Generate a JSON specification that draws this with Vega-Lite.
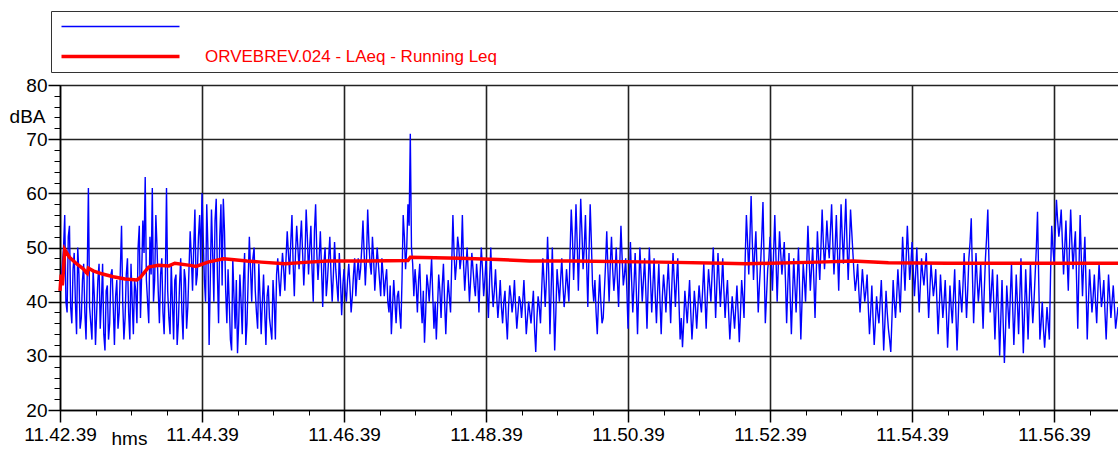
{
  "$schema": "https://vega.github.io/schema/vega-lite/v6.json",
  "autosize": "none",
  "width": 1058,
  "height": 325,
  "padding": {"left": 60, "top": 85, "right": 0, "bottom": 40},
  "background": "white",
  "config": {
    "view": {"stroke": null},
    "axis": {"labelFont": "Liberation Sans", "labelFontSize": 19, "labelColor": "black", "labelFlush": false, "titleFont": "Liberation Sans", "titleFontSize": 19, "titleFontWeight": "normal", "titleColor": "black", "domainColor": "black", "tickColor": "black", "gridColor": "#222", "gridOpacity": 1}
  },
  "datasets": {
    "blue": [
      {"t":0,"v":42},{"t":2,"v":47},{"t":4,"v":56},{"t":6,"v":38},{"t":8,"v":54},{"t":10,"v":36},{"t":12,"v":49},{"t":14,"v":34},{"t":16,"v":45},{"t":18,"v":37},
      {"t":20,"v":47},{"t":22,"v":33},{"t":24,"v":61},{"t":26,"v":36},{"t":28,"v":46},{"t":30,"v":32},{"t":32,"v":44},{"t":34,"v":35},{"t":36,"v":47},{"t":38,"v":31},
      {"t":40,"v":43},{"t":42,"v":36},{"t":44,"v":46},{"t":46,"v":32},{"t":48,"v":44},{"t":50,"v":38},{"t":52,"v":54},{"t":54,"v":33},{"t":56,"v":45},{"t":58,"v":38},
      {"t":60,"v":47},{"t":62,"v":34},{"t":64,"v":42},{"t":66,"v":50},{"t":68,"v":37},{"t":70,"v":55},{"t":72,"v":63},{"t":74,"v":40},{"t":76,"v":52},{"t":78,"v":61},
      {"t":80,"v":44},{"t":82,"v":50},{"t":84,"v":36},{"t":86,"v":48},{"t":88,"v":34},{"t":90,"v":61},{"t":92,"v":37},{"t":94,"v":47},{"t":96,"v":33},{"t":98,"v":45},
      {"t":100,"v":36},{"t":102,"v":48},{"t":104,"v":33},{"t":106,"v":44},{"t":108,"v":39},{"t":110,"v":53},{"t":112,"v":42},{"t":114,"v":57},{"t":116,"v":45},{"t":118,"v":56},
      {"t":120,"v":60},{"t":122,"v":44},{"t":124,"v":58},{"t":126,"v":32},{"t":128,"v":57},{"t":130,"v":40},{"t":132,"v":59},{"t":134,"v":36},{"t":136,"v":58},{"t":138,"v":59},
      {"t":140,"v":42},{"t":142,"v":46},{"t":144,"v":33},{"t":146,"v":48},{"t":148,"v":35},{"t":150,"v":30.5},{"t":152,"v":45},{"t":154,"v":34},{"t":156,"v":49},{"t":158,"v":36},
      {"t":160,"v":52},{"t":162,"v":40},{"t":164,"v":50},{"t":166,"v":38},{"t":168,"v":47},{"t":170,"v":34},{"t":172,"v":45},{"t":174,"v":32},{"t":176,"v":43},{"t":178,"v":35},
      {"t":180,"v":44},{"t":182,"v":33},{"t":184,"v":48},{"t":186,"v":41},{"t":188,"v":49},{"t":190,"v":42},{"t":192,"v":53},{"t":194,"v":45},{"t":196,"v":56},{"t":198,"v":41},
      {"t":200,"v":54},{"t":202,"v":46},{"t":204,"v":55},{"t":206,"v":43},{"t":208,"v":57},{"t":210,"v":45},{"t":212,"v":54},{"t":214,"v":40},{"t":216,"v":58},{"t":218,"v":44},
      {"t":220,"v":53},{"t":222,"v":39},{"t":224,"v":50},{"t":226,"v":44},{"t":228,"v":52},{"t":230,"v":40},{"t":232,"v":51},{"t":234,"v":43},{"t":236,"v":49},{"t":238,"v":37.5},
      {"t":240,"v":46},{"t":242,"v":40},{"t":244,"v":47},{"t":246,"v":38},{"t":248,"v":45},{"t":250,"v":41},{"t":252,"v":48},{"t":254,"v":46},{"t":256,"v":55},{"t":258,"v":43},
      {"t":260,"v":57},{"t":262,"v":47},{"t":264,"v":52},{"t":266,"v":42},{"t":268,"v":50},{"t":270,"v":44},{"t":272,"v":48},{"t":274,"v":41},{"t":276,"v":46},{"t":278,"v":38},
      {"t":280,"v":34},{"t":282,"v":44},{"t":284,"v":36},{"t":286,"v":42},{"t":288,"v":35},{"t":290,"v":56},{"t":292,"v":46},{"t":294,"v":58},{"t":296,"v":71},{"t":298,"v":47},
      {"t":300,"v":46},{"t":302,"v":38},{"t":304,"v":47},{"t":306,"v":36},{"t":308,"v":32.4},{"t":310,"v":45},{"t":312,"v":40},{"t":314,"v":48},{"t":316,"v":35},{"t":318,"v":33},
      {"t":320,"v":45},{"t":322,"v":37},{"t":324,"v":47},{"t":326,"v":34},{"t":328,"v":44},{"t":330,"v":38},{"t":332,"v":56},{"t":334,"v":44},{"t":336,"v":52},{"t":338,"v":46},
      {"t":340,"v":56},{"t":342,"v":42},{"t":344,"v":50},{"t":346,"v":40},{"t":348,"v":49},{"t":350,"v":43},{"t":352,"v":47},{"t":354,"v":38},{"t":356,"v":50},{"t":358,"v":41},
      {"t":360,"v":48},{"t":362,"v":37},{"t":364,"v":50},{"t":366,"v":39},{"t":368,"v":46},{"t":370,"v":37},{"t":372,"v":44},{"t":374,"v":36},{"t":376,"v":42},{"t":378,"v":33},
      {"t":380,"v":43},{"t":382,"v":38},{"t":384,"v":44},{"t":386,"v":35},{"t":388,"v":41},{"t":390,"v":37},{"t":392,"v":44},{"t":394,"v":34},{"t":396,"v":40},{"t":398,"v":36},
      {"t":400,"v":42},{"t":402,"v":30.7},{"t":404,"v":41},{"t":406,"v":36},{"t":408,"v":48},{"t":410,"v":39},{"t":412,"v":52},{"t":414,"v":34},{"t":416,"v":50},{"t":418,"v":31},
      {"t":420,"v":46},{"t":422,"v":40},{"t":424,"v":48},{"t":426,"v":39},{"t":428,"v":46},{"t":430,"v":40},{"t":432,"v":57},{"t":434,"v":44},{"t":436,"v":58},{"t":438,"v":42},
      {"t":440,"v":59},{"t":442,"v":46},{"t":444,"v":56},{"t":446,"v":39},{"t":448,"v":58},{"t":450,"v":43},{"t":452,"v":44},{"t":454,"v":34},{"t":456,"v":45},{"t":458,"v":36},
      {"t":460,"v":42},{"t":462,"v":53},{"t":464,"v":40},{"t":466,"v":52},{"t":468,"v":42},{"t":470,"v":50},{"t":472,"v":39},{"t":474,"v":54},{"t":476,"v":43},{"t":478,"v":48},
      {"t":480,"v":35},{"t":482,"v":51},{"t":484,"v":38},{"t":486,"v":49},{"t":488,"v":34},{"t":490,"v":50},{"t":492,"v":40},{"t":494,"v":48},{"t":496,"v":35},{"t":498,"v":50},
      {"t":500,"v":38},{"t":502,"v":48},{"t":504,"v":36},{"t":506,"v":47},{"t":508,"v":34},{"t":510,"v":45},{"t":512,"v":38},{"t":514,"v":47},{"t":516,"v":36},{"t":518,"v":49},
      {"t":520,"v":39},{"t":522,"v":48},{"t":524,"v":33},{"t":526,"v":31.6},{"t":528,"v":42},{"t":530,"v":36},{"t":532,"v":44},{"t":534,"v":33},{"t":536,"v":42},{"t":538,"v":35},
      {"t":540,"v":43},{"t":542,"v":38},{"t":544,"v":47},{"t":546,"v":35},{"t":548,"v":46},{"t":550,"v":40},{"t":552,"v":50},{"t":554,"v":37},{"t":556,"v":49},{"t":558,"v":39},
      {"t":560,"v":48},{"t":562,"v":37},{"t":564,"v":44},{"t":566,"v":33},{"t":568,"v":41},{"t":570,"v":35},{"t":572,"v":43},{"t":574,"v":32.5},{"t":576,"v":44},{"t":578,"v":37},
      {"t":580,"v":56},{"t":582,"v":45},{"t":584,"v":59.5},{"t":586,"v":44},{"t":588,"v":53},{"t":590,"v":38},{"t":592,"v":47},{"t":594,"v":58.4},{"t":596,"v":36},{"t":598,"v":46},
      {"t":600,"v":52},{"t":602,"v":42},{"t":604,"v":56},{"t":606,"v":40},{"t":608,"v":53},{"t":610,"v":45},{"t":612,"v":51},{"t":614,"v":36},{"t":616,"v":49},{"t":618,"v":34},
      {"t":620,"v":48},{"t":622,"v":38},{"t":624,"v":50},{"t":626,"v":33},{"t":628,"v":47},{"t":630,"v":40},{"t":632,"v":54},{"t":634,"v":42},{"t":636,"v":50},{"t":638,"v":37},
      {"t":640,"v":53},{"t":642,"v":44},{"t":644,"v":57},{"t":646,"v":46},{"t":648,"v":55},{"t":650,"v":48},{"t":652,"v":58},{"t":654,"v":45},{"t":656,"v":56},{"t":658,"v":42},
      {"t":660,"v":58},{"t":662,"v":47},{"t":664,"v":59},{"t":666,"v":44},{"t":668,"v":57},{"t":670,"v":49},{"t":672,"v":42},{"t":674,"v":47},{"t":676,"v":38},{"t":678,"v":46},
      {"t":680,"v":40},{"t":682,"v":45},{"t":684,"v":34},{"t":686,"v":43},{"t":688,"v":32},{"t":690,"v":41},{"t":692,"v":36},{"t":694,"v":44},{"t":696,"v":31},{"t":698,"v":42},
      {"t":700,"v":35},{"t":702,"v":30.7},{"t":704,"v":44},{"t":706,"v":37},{"t":708,"v":46},{"t":710,"v":38},{"t":712,"v":52},{"t":714,"v":42},{"t":716,"v":54},{"t":718,"v":44},
      {"t":720,"v":51},{"t":722,"v":41},{"t":724,"v":50},{"t":726,"v":38},{"t":728,"v":48},{"t":730,"v":43},{"t":732,"v":49},{"t":734,"v":37},{"t":736,"v":47},{"t":738,"v":41},
      {"t":740,"v":46},{"t":742,"v":34},{"t":744,"v":45},{"t":746,"v":37},{"t":748,"v":44},{"t":750,"v":31.5},{"t":752,"v":43},{"t":754,"v":36},{"t":756,"v":46},{"t":758,"v":31},
      {"t":760,"v":44},{"t":762,"v":38},{"t":764,"v":49},{"t":766,"v":37},{"t":768,"v":48},{"t":770,"v":55.4},{"t":772,"v":36},{"t":774,"v":49},{"t":776,"v":40},{"t":778,"v":47},
      {"t":780,"v":35},{"t":782,"v":48},{"t":784,"v":57},{"t":786,"v":38},{"t":788,"v":46},{"t":790,"v":33},{"t":792,"v":45},{"t":794,"v":30},{"t":796,"v":44},{"t":798,"v":28.7},
      {"t":800,"v":43},{"t":802,"v":35},{"t":804,"v":47},{"t":806,"v":32},{"t":808,"v":45},{"t":810,"v":34},{"t":812,"v":48},{"t":814,"v":30.5},{"t":816,"v":46},{"t":818,"v":33},
      {"t":820,"v":47},{"t":822,"v":36},{"t":824,"v":45},{"t":826,"v":56.6},{"t":828,"v":33},{"t":830,"v":40},{"t":832,"v":31.5},{"t":834,"v":39},{"t":836,"v":33},{"t":838,"v":54},
      {"t":840,"v":47},{"t":842,"v":58.8},{"t":844,"v":52},{"t":846,"v":57},{"t":848,"v":45},{"t":850,"v":55},{"t":852,"v":42},{"t":854,"v":57},{"t":856,"v":46},{"t":858,"v":53},
      {"t":860,"v":35},{"t":862,"v":56},{"t":864,"v":41},{"t":866,"v":52},{"t":868,"v":33},{"t":870,"v":46},{"t":872,"v":38},{"t":874,"v":45},{"t":876,"v":36},{"t":878,"v":47},
      {"t":880,"v":39},{"t":882,"v":44},{"t":884,"v":33},{"t":886,"v":45},{"t":888,"v":37},{"t":890,"v":43},{"t":892,"v":35},{"t":894,"v":39},
      {"t":1,"v":44},{"t":3,"v":50},{"t":5,"v":40},{"t":7,"v":52},{"t":9,"v":39},{"t":11,"v":46},{"t":13,"v":40},{"t":15,"v":50},{"t":17,"v":35},{"t":19,"v":44},
      {"t":21,"v":38},{"t":23,"v":45},{"t":25,"v":39},{"t":27,"v":33},{"t":29,"v":41},{"t":31,"v":38},{"t":33,"v":47},{"t":35,"v":40},{"t":37,"v":34},{"t":39,"v":42},
      {"t":41,"v":33},{"t":43,"v":45},{"t":45,"v":39},{"t":47,"v":41},{"t":49,"v":35},{"t":51,"v":46},{"t":53,"v":40},{"t":55,"v":37},{"t":57,"v":48},{"t":59,"v":33},
      {"t":61,"v":40},{"t":63,"v":44},{"t":65,"v":36},{"t":67,"v":54},{"t":69,"v":45},{"t":71,"v":49},{"t":73,"v":44},{"t":75,"v":36},{"t":77,"v":45},{"t":79,"v":40},
      {"t":81,"v":56},{"t":83,"v":42},{"t":85,"v":45},{"t":87,"v":38},{"t":89,"v":44},{"t":91,"v":42},{"t":93,"v":34},{"t":95,"v":40},{"t":97,"v":44},{"t":99,"v":32},
      {"t":101,"v":43},{"t":103,"v":38},{"t":105,"v":46},{"t":107,"v":35},{"t":109,"v":46},{"t":111,"v":48},{"t":113,"v":50},{"t":115,"v":43},{"t":117,"v":52},{"t":119,"v":47},
      {"t":121,"v":52},{"t":123,"v":40},{"t":125,"v":50},{"t":127,"v":44},{"t":129,"v":49},{"t":131,"v":55},{"t":133,"v":45},{"t":135,"v":52},{"t":137,"v":43},{"t":139,"v":53},
      {"t":141,"v":36},{"t":143,"v":40},{"t":145,"v":31},{"t":147,"v":41},{"t":149,"v":44},{"t":151,"v":36},{"t":153,"v":40},{"t":155,"v":44},{"t":157,"v":32},{"t":159,"v":44},
      {"t":161,"v":46},{"t":163,"v":48},{"t":165,"v":42},{"t":167,"v":35},{"t":169,"v":41},{"t":171,"v":40},{"t":173,"v":38},{"t":175,"v":41},{"t":177,"v":37},{"t":179,"v":33},
      {"t":181,"v":40},{"t":183,"v":45},{"t":185,"v":44},{"t":187,"v":45},{"t":189,"v":46},{"t":191,"v":48},{"t":193,"v":49},{"t":195,"v":51},{"t":197,"v":47},{"t":199,"v":49},
      {"t":201,"v":50},{"t":203,"v":51},{"t":205,"v":49},{"t":207,"v":48},{"t":209,"v":52},{"t":211,"v":50},{"t":213,"v":46},{"t":215,"v":53},{"t":217,"v":49},{"t":219,"v":48},
      {"t":221,"v":46},{"t":223,"v":47},{"t":225,"v":41},{"t":227,"v":48},{"t":229,"v":45},{"t":231,"v":45},{"t":233,"v":46},{"t":235,"v":40},{"t":237,"v":44},{"t":239,"v":43},
      {"t":241,"v":42},{"t":243,"v":44},{"t":245,"v":43},{"t":247,"v":41},{"t":249,"v":48},{"t":251,"v":45},{"t":253,"v":44},{"t":255,"v":50},{"t":257,"v":49},{"t":259,"v":48},
      {"t":261,"v":51},{"t":263,"v":45},{"t":265,"v":48},{"t":267,"v":46},{"t":269,"v":47},{"t":271,"v":41},{"t":273,"v":45},{"t":275,"v":44},{"t":277,"v":40},{"t":279,"v":43},
      {"t":281,"v":39},{"t":283,"v":40},{"t":285,"v":41},{"t":287,"v":38},{"t":289,"v":44},{"t":291,"v":52},{"t":293,"v":50},{"t":295,"v":54},{"t":297,"v":50},{"t":299,"v":41},
      {"t":301,"v":43},{"t":303,"v":44},{"t":305,"v":40},{"t":307,"v":42},{"t":309,"v":38},{"t":311,"v":43},{"t":313,"v":44},{"t":315,"v":41},{"t":317,"v":40},{"t":319,"v":39},
      {"t":321,"v":42},{"t":323,"v":43},{"t":325,"v":40},{"t":327,"v":40},{"t":329,"v":41},{"t":331,"v":47},{"t":333,"v":49},{"t":335,"v":47},{"t":337,"v":50},{"t":339,"v":48},
      {"t":341,"v":47},{"t":343,"v":46},{"t":345,"v":45},{"t":347,"v":44},{"t":349,"v":46},{"t":351,"v":41},{"t":353,"v":44},{"t":355,"v":45},{"t":357,"v":46},{"t":359,"v":44},
      {"t":361,"v":42},{"t":363,"v":44},{"t":365,"v":43},{"t":367,"v":42},{"t":369,"v":41},{"t":371,"v":40},{"t":373,"v":39},{"t":375,"v":40},{"t":377,"v":37},{"t":379,"v":39},
      {"t":381,"v":41},{"t":383,"v":40},{"t":385,"v":39},{"t":387,"v":38},{"t":389,"v":40},{"t":391,"v":40},{"t":393,"v":39},{"t":395,"v":37},{"t":397,"v":38},{"t":399,"v":39},
      {"t":401,"v":35},{"t":403,"v":37},{"t":405,"v":39},{"t":407,"v":42},{"t":409,"v":44},{"t":411,"v":44},{"t":413,"v":45},{"t":415,"v":42},{"t":417,"v":41},{"t":419,"v":38},
      {"t":421,"v":43},{"t":423,"v":44},{"t":425,"v":43},{"t":427,"v":42},{"t":429,"v":43},{"t":431,"v":49},{"t":433,"v":52},{"t":435,"v":50},{"t":437,"v":51},{"t":439,"v":50},
      {"t":441,"v":53},{"t":443,"v":50},{"t":445,"v":47},{"t":447,"v":49},{"t":449,"v":51},{"t":451,"v":40},{"t":453,"v":38},{"t":455,"v":40},{"t":457,"v":40},{"t":459,"v":37},
      {"t":461,"v":47},{"t":463,"v":46},{"t":465,"v":47},{"t":467,"v":46},{"t":469,"v":45},{"t":471,"v":44},{"t":473,"v":47},{"t":475,"v":48},{"t":477,"v":45},{"t":479,"v":42},
      {"t":481,"v":43},{"t":483,"v":44},{"t":485,"v":43},{"t":487,"v":42},{"t":489,"v":42},{"t":491,"v":45},{"t":493,"v":44},{"t":495,"v":42},{"t":497,"v":43},{"t":499,"v":44},
      {"t":501,"v":43},{"t":503,"v":41},{"t":505,"v":42},{"t":507,"v":40},{"t":509,"v":41},{"t":511,"v":42},{"t":513,"v":43},{"t":515,"v":42},{"t":517,"v":43},{"t":519,"v":44},
      {"t":521,"v":44},{"t":523,"v":40},{"t":525,"v":37},{"t":527,"v":36},{"t":529,"v":39},{"t":531,"v":40},{"t":533,"v":38},{"t":535,"v":37},{"t":537,"v":39},{"t":539,"v":39},
      {"t":541,"v":40},{"t":543,"v":42},{"t":545,"v":41},{"t":547,"v":41},{"t":549,"v":43},{"t":551,"v":45},{"t":553,"v":44},{"t":555,"v":43},{"t":557,"v":44},{"t":559,"v":43},
      {"t":561,"v":42},{"t":563,"v":41},{"t":565,"v":38},{"t":567,"v":37},{"t":569,"v":38},{"t":571,"v":39},{"t":573,"v":38},{"t":575,"v":38},{"t":577,"v":41},{"t":579,"v":48},
      {"t":581,"v":51},{"t":583,"v":52},{"t":585,"v":51},{"t":587,"v":49},{"t":589,"v":46},{"t":591,"v":43},{"t":593,"v":52},{"t":595,"v":47},{"t":597,"v":41},{"t":599,"v":48},
      {"t":601,"v":47},{"t":603,"v":49},{"t":605,"v":48},{"t":607,"v":47},{"t":609,"v":49},{"t":611,"v":48},{"t":613,"v":44},{"t":615,"v":43},{"t":617,"v":41},{"t":619,"v":41},
      {"t":621,"v":43},{"t":623,"v":44},{"t":625,"v":42},{"t":627,"v":40},{"t":629,"v":44},{"t":631,"v":47},{"t":633,"v":48},{"t":635,"v":46},{"t":637,"v":44},{"t":639,"v":45},
      {"t":641,"v":48},{"t":643,"v":50},{"t":645,"v":51},{"t":647,"v":50},{"t":649,"v":51},{"t":651,"v":53},{"t":653,"v":51},{"t":655,"v":50},{"t":657,"v":49},{"t":659,"v":50},
      {"t":661,"v":52},{"t":663,"v":53},{"t":665,"v":51},{"t":667,"v":50},{"t":669,"v":53},{"t":671,"v":45},{"t":673,"v":44},{"t":675,"v":42},{"t":677,"v":42},{"t":679,"v":43},
      {"t":681,"v":42},{"t":683,"v":39},{"t":685,"v":38},{"t":687,"v":37},{"t":689,"v":36},{"t":691,"v":38},{"t":693,"v":40},{"t":695,"v":38},{"t":697,"v":36},{"t":699,"v":38},
      {"t":701,"v":33},{"t":703,"v":37},{"t":705,"v":40},{"t":707,"v":41},{"t":709,"v":42},{"t":711,"v":45},{"t":713,"v":47},{"t":715,"v":48},{"t":717,"v":49},{"t":719,"v":47},
      {"t":721,"v":46},{"t":723,"v":45},{"t":725,"v":44},{"t":727,"v":43},{"t":729,"v":45},{"t":731,"v":46},{"t":733,"v":43},{"t":735,"v":42},{"t":737,"v":44},{"t":739,"v":43},
      {"t":741,"v":40},{"t":743,"v":39},{"t":745,"v":41},{"t":747,"v":40},{"t":749,"v":38},{"t":751,"v":37},{"t":753,"v":39},{"t":755,"v":41},{"t":757,"v":38},{"t":759,"v":37},
      {"t":761,"v":41},{"t":763,"v":43},{"t":765,"v":43},{"t":767,"v":42},{"t":769,"v":51},{"t":771,"v":45},{"t":773,"v":42},{"t":775,"v":44},{"t":777,"v":43},{"t":779,"v":41},
      {"t":781,"v":42},{"t":783,"v":52},{"t":785,"v":47},{"t":787,"v":42},{"t":789,"v":40},{"t":791,"v":39},{"t":793,"v":38},{"t":795,"v":37},{"t":797,"v":36},{"t":799,"v":35},
      {"t":801,"v":39},{"t":803,"v":41},{"t":805,"v":39},{"t":807,"v":38},{"t":809,"v":40},{"t":811,"v":41},{"t":813,"v":39},{"t":815,"v":38},{"t":817,"v":40},{"t":819,"v":40},
      {"t":821,"v":41},{"t":823,"v":40},{"t":825,"v":50},{"t":827,"v":44},{"t":829,"v":36},{"t":831,"v":35},{"t":833,"v":35},{"t":835,"v":36},{"t":837,"v":45},{"t":839,"v":50},
      {"t":841,"v":53},{"t":843,"v":55},{"t":845,"v":54},{"t":847,"v":51},{"t":849,"v":50},{"t":851,"v":48},{"t":853,"v":50},{"t":855,"v":51},{"t":857,"v":50},{"t":859,"v":44},
      {"t":861,"v":46},{"t":863,"v":48},{"t":865,"v":47},{"t":867,"v":43},{"t":869,"v":40},{"t":871,"v":42},{"t":873,"v":41},{"t":875,"v":40},{"t":877,"v":42},{"t":879,"v":43},
      {"t":881,"v":41},{"t":883,"v":38},{"t":885,"v":39},{"t":887,"v":41},{"t":889,"v":40},{"t":891,"v":39},{"t":893,"v":37}
    ],
    "red": [
      {"t":0,"v":42},{"t":1,"v":45},{"t":2,"v":43},{"t":3,"v":46},{"t":4,"v":49.6},{"t":8,"v":48.2},{"t":14,"v":47},{"t":20,"v":46},{"t":22,"v":45.4},{"t":23,"v":45.2},
      {"t":24,"v":46.2},{"t":28,"v":45.7},{"t":36,"v":45.1},{"t":45,"v":44.6},{"t":55,"v":44.2},{"t":65,"v":44},{"t":68,"v":44.5},{"t":72,"v":45.6},{"t":75,"v":46.4},{"t":83,"v":46.7},
      {"t":92,"v":46.6},{"t":97,"v":47.1},{"t":110,"v":46.7},{"t":115,"v":46.5},{"t":125,"v":47.3},{"t":138,"v":47.9},{"t":145,"v":47.8},{"t":158,"v":47.5},{"t":170,"v":47.3},{"t":190,"v":47.0},
      {"t":210,"v":47.3},{"t":226,"v":47.5},{"t":260,"v":47.5},{"t":294,"v":47.6},{"t":296,"v":48.2},{"t":338,"v":48.0},{"t":370,"v":47.8},{"t":397,"v":47.5},{"t":433,"v":47.5},{"t":507,"v":47.3},
      {"t":560,"v":47.1},{"t":580,"v":47.0},{"t":600,"v":47.1},{"t":640,"v":47.3},{"t":670,"v":47.5},{"t":700,"v":47.2},{"t":750,"v":47.1},{"t":800,"v":47.1},{"t":870,"v":47.1},{"t":894,"v":47.1}
    ]
  },
  "layer": [
    {
      "data": {"name": "blue"},
      "mark": {"type": "line", "strokeWidth": 1.4, "interpolate": "linear"},
      "encoding": {
        "x": {"field": "t", "type": "quantitative",
              "scale": {"domain": [0, 894], "nice": false, "zero": false},
              "axis": {"orient": "bottom", "values": [0,120,240,360,480,600,720,840], "grid": true, "gridWidth": 1.6,
                       "tickSize": 12, "tickWidth": 1.5, "domainWidth": 1.5, "labelPadding": 3,
                       "labelExpr": "'11.' + (42 + datum.value/60) + '.39'",
                       "title": "hms", "titleX": 69, "titleY": 28, "titleBaseline": "middle", "titleAlign": "center", "titleAnchor": null}},
        "y": {"field": "v", "type": "quantitative",
              "scale": {"domain": [20, 80], "nice": false, "zero": false},
              "axis": {"orient": "left", "values": [20,30,40,50,60,70,80], "grid": true, "gridWidth": 1.6,
                       "tickSize": 12, "tickWidth": 1.5, "domainWidth": 1.5, "labelPadding": 1,
                       "title": "dBA", "titleAngle": 0, "titleX": -15, "titleY": 31, "titleAlign": "right", "titleBaseline": "middle", "titleAnchor": null}},
        "color": {"datum": "Raw",
                  "scale": {"domain": ["Raw", "ORVEBREV.024 - LAeq - Running Leq"], "range": ["#0000ff", "#ff0000"]},
                  "legend": {"orient": "none", "legendX": -9, "legendY": -74, "direction": "vertical",
                             "title": null, "symbolType": "stroke", "symbolSize": 13924, "symbolStrokeWidth": 2,
                             "symbolOffset": 54, "labelOffset": 76, "rowPadding": 12, "padding": 7,
                             "strokeColor": "#333", "fillColor": "white",
                             "labelFont": "Liberation Sans", "labelFontSize": 17, "labelColor": "#ff0000",
                             "labelExpr": "datum.value == 'Raw' ? '' : pad(datum.label, 82, '\u2800') + '    \u2800'", "labelLimit": 0,
                             "encode": {"symbols": {"update": {"strokeWidth": {"signal": "datum.value == 'Raw' ? 1.5 : 3.5"}}}}}}
      }
    },
    {
      "data": {"name": "red"},
      "mark": {"type": "line", "strokeWidth": 3.5, "interpolate": "linear"},
      "encoding": {
        "x": {"field": "t", "type": "quantitative",
              "axis": {"orient": "bottom", "values": [0,30,60,90,120,150,180,210,240,270,300,330,360,390,420,450,480,510,540,570,600,630,660,690,720,750,780,810,840,870],
                       "grid": false, "domain": false, "labels": false, "tickSize": 5, "tickWidth": 1, "title": null}},
        "y": {"field": "v", "type": "quantitative",
              "axis": {"orient": "left", "values": [20,22,24,26,28,30,32,34,36,38,40,42,44,46,48,50,52,54,56,58,60,62,64,66,68,70,72,74,76,78,80],
                       "grid": false, "domain": false, "labels": false, "tickSize": 6, "tickWidth": 1, "title": null}},
        "color": {"datum": "ORVEBREV.024 - LAeq - Running Leq"}
      }
    }
  ],
  "resolve": {"scale": {"x": "shared", "y": "shared", "color": "shared"}, "axis": {"x": "independent", "y": "independent"}}
}
